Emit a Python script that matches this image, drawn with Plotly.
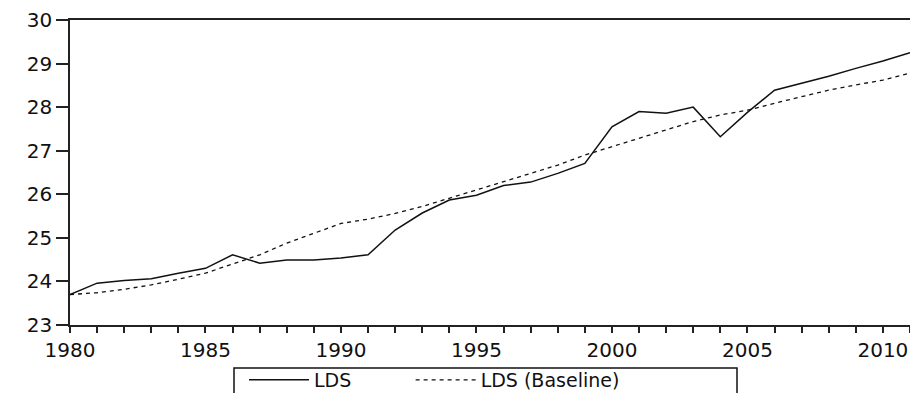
import plotly.graph_objects as go

years = list(range(1980, 2012))
lds = [23.70, 23.96, 24.02, 24.06, 24.19, 24.30, 24.61, 24.42, 24.49, 24.49,
       24.54, 24.61, 25.18, 25.57, 25.87, 25.98, 26.20, 26.28, 26.48, 26.71,
       27.55, 27.90, 27.86, 28.00, 27.32, 27.88, 28.39, 28.55, 28.71, 28.89,
       29.06, 29.25]
lds_base = [23.70, 23.74, 23.82, 23.92, 24.05, 24.19, 24.40, 24.61, 24.88, 25.10,
            25.33, 25.43, 25.56, 25.72, 25.91, 26.10, 26.29, 26.48, 26.67, 26.90,
            27.09, 27.28, 27.48, 27.67, 27.82, 27.93, 28.09, 28.24, 28.39, 28.51,
            28.62, 28.78]
x_ticks = [1980, 1985, 1990, 1995, 2000, 2005, 2010]
y_ticks = [23, 24, 25, 26, 27, 28, 29, 30]
series_names = ["LDS", "LDS (Baseline)"]

nb = "\u00a0"
fig = go.Figure()
fig.add_trace(go.Scatter(x=years, y=lds, mode="lines", name=series_names[0] + nb * 9,
                         line=dict(color="#111111", width=1.5)))
fig.add_trace(go.Scatter(x=years, y=lds_base, mode="lines",
                         name=series_names[1],
                         line=dict(color="#111111", width=1.3, dash="4px,4px")))

font = dict(family="DejaVu Sans", size=20, color="#111111")
lfont = dict(family="DejaVu Sans", size=19, color="#111111")
plot_w, plot_h = 840, 305
fig.update_layout(
    width=918, height=393,
    margin=dict(l=62, r=16, t=12, b=76, autoexpand=False),
    paper_bgcolor="white", plot_bgcolor="white",
    font=font,
    showlegend=True,
    legend=dict(orientation="h", x=(244 - 70) / plot_w, xanchor="left",
                y=(325 - 361) / plot_h, yanchor="top",
                bgcolor="rgba(0,0,0,0)", borderwidth=0, font=lfont,
                itemwidth=60, tracegroupgap=0),
    shapes=[dict(type="rect", xref="paper", yref="paper",
                 x0=(234 - 70) / plot_w, x1=(737 - 70) / plot_w,
                 y0=(325 - 368) / plot_h, y1=(325 - 420) / plot_h,
                 line=dict(color="#111111", width=1.5), fillcolor="rgba(0,0,0,0)",
                 layer="below")],
    xaxis=dict(range=[1980, 2011], tickvals=x_ticks, ticktext=[str(v) for v in x_ticks],
               ticks="outside", ticklen=6, tickcolor="#222222", tickwidth=1.5,
               showline=True, linecolor="#222222", linewidth=1.5, mirror=True,
               showgrid=False, zeroline=False, automargin=False,
               minor=dict(dtick=1, tick0=1980, ticks="outside", ticklen=6,
                          tickcolor="#222222", tickwidth=1.5, showgrid=False)),
    yaxis=dict(range=[23, 30], tickvals=y_ticks, ticks="outside", ticklen=12,
               tickcolor="#222222", tickwidth=1.5,
               showline=True, linecolor="#222222", linewidth=1.5, mirror=True,
               showgrid=False, zeroline=False, automargin=False),
)
fig.write_html("out.html")
